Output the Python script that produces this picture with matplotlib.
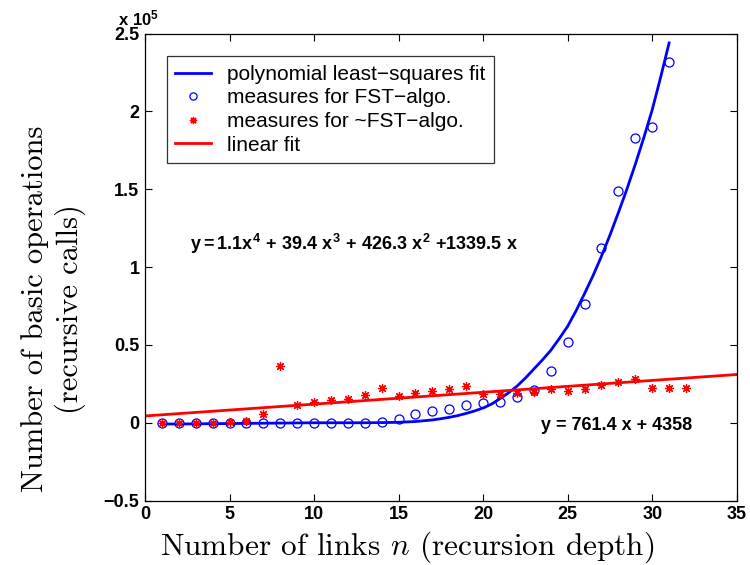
import numpy as np
import matplotlib
matplotlib.use('Agg')
import matplotlib.pyplot as plt
from matplotlib.ticker import FuncFormatter

# mathtext for the bold annotations: everything in Liberation Sans bold
plt.rcParams['mathtext.fontset'] = 'custom'
plt.rcParams['mathtext.rm'] = 'Liberation Sans:bold'
plt.rcParams['mathtext.it'] = 'Liberation Sans:bold'
plt.rcParams['mathtext.bf'] = 'Liberation Sans:bold'
plt.rcParams['font.family'] = ['Liberation Sans', 'DejaVu Sans']

# measured number of recursive calls, FST algorithm
n_fst = list(range(1, 32))
calls_fst = [0, 0, 0, 0, 0, 0, 0, 0, 0, 0, 0, 0, 0, 800, 2400, 5600, 7700,
             8800, 11500, 12600, 13500, 16300, 21000, 33000, 52000, 76600,
             112000, 149000, 183000, 190000, 232000]

# measured number of recursive calls, ~FST algorithm
n_nfst = list(range(1, 33))
calls_nfst = [0, 0, 0, 0, 500, 1000, 5600, 36600, 11400, 13500, 14600, 15000,
              17800, 22300, 17100, 19000, 20600, 21600, 23800, 18400, 18400,
              18800, 19900, 21600, 20600, 21600, 24400, 26500, 28000, 22300,
              22300, 22300]

# polynomial least-squares fit curve
n_poly = [1, 2, 3, 4, 5, 6, 7, 8, 9, 10, 11, 12, 13, 14, 15, 16, 17, 17.5,
          18, 18.5, 19, 19.5, 20, 20.5, 21, 21.5, 22, 22.5, 23, 23.5, 24,
          24.5, 25, 25.5, 26, 26.5, 27, 27.5, 28, 28.5, 29, 29.5, 30, 30.5, 31]
calls_poly = [-800, -800, -700, -600, -500, -400, -300, -200, -100, 0, 0, 0,
              0, 100, 300, 800, 1800, 2600, 3500, 4600, 6000, 7600, 9500,
              12000, 15500, 19200, 23500, 28700, 34500, 40300, 46500, 54000,
              62000, 72000, 83000, 94500, 107000, 120500, 135000, 150000,
              166000, 183000, 201000, 222000, 244000]

# linear fit y = 761.4 x + 4358, end points
n_lin = [0, 35]
calls_lin = [4358, 31007]

poly_text = r'$y{=}1.1x^4\ {+}\ 39.4\ x^3\ {+}\ 426.3\ x^2\ {+}1339.5\ x$'
lin_text = 'y = 761.4 x + 4358'

fig = plt.figure(figsize=(7.5, 5.65), dpi=100)
ax = fig.add_axes([0.1933, 0.114, 0.789, 0.8265])

ax.plot(n_poly, calls_poly, '-', color='#0000ff', lw=2,
        label='polynomial least\u2212squares fit')
ax.plot(n_fst, calls_fst, 'o', color='#0000ff', mfc='none', ms=6.5, mew=0.9,
        label='measures for FST\u2212algo.')
ax.plot(n_nfst, calls_nfst, ls='none', marker=(8, 2, 0), color='#ff0000',
        ms=6.5, mew=0.9, label='measures for ~FST\u2212algo.')
ax.plot(n_lin, calls_lin, '-', color='#ff0000', lw=2, label='linear fit')

ax.set_xlim(0, 35)
ax.set_ylim(-50000, 250000)
ax.set_xticks(np.arange(0, 36, 5))
ax.set_yticks(np.arange(-50000, 250001, 50000))
ax.yaxis.set_major_formatter(FuncFormatter(lambda v, p: ('%g' % (v / 1e5)).replace('-', '\u2212')))
ax.tick_params(direction='in', top=True, right=True, length=5, width=0.8,
               labelsize=13, pad=4)
for lab in ax.get_xticklabels() + ax.get_yticklabels():
    lab.set_fontweight('bold')
for s in ax.spines.values():
    s.set_linewidth(0.9)

ax.text(-0.045, 1.012, r'$x\ 10^5$', transform=ax.transAxes, fontsize=12,
        ha='left', va='bottom')

ax.text(2.66, 115000, poly_text, fontsize=13, ha='left', va='center')
ax.text(23.4, -2000, lin_text, fontsize=13, fontweight='bold', ha='left',
        va='center')

xl = ax.set_xlabel(r'Number of links $n$ (recursion depth)', fontsize=22.5,
                   family='cmr10')
xl.set_math_fontfamily('cm')
ax.xaxis.set_label_coords(0.443, -0.062)

ax.set_ylabel('Number of basic operations\n(recursive calls)', fontsize=22,
              family='cmr10', linespacing=1.25)
ax.yaxis.set_label_coords(-0.1, 0.411)

leg = ax.legend(loc='upper left', bbox_to_anchor=(0.037, 0.951), fontsize=15,
                frameon=True, fancybox=False, edgecolor='black',
                handlelength=1.7, handletextpad=0.8, borderpad=0.4,
                labelspacing=0.22, borderaxespad=0, markerscale=0.8)
leg.get_frame().set_linewidth(0.9)

fig.savefig('out.png', dpi=100, facecolor='white')
